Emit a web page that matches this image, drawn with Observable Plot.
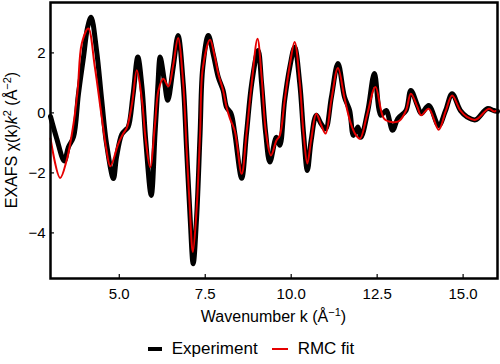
<!DOCTYPE html>
<html><head><meta charset="utf-8">
<script src="https://cdn.jsdelivr.net/npm/d3@7"></script>
<script src="https://cdn.jsdelivr.net/npm/@observablehq/plot@0.6"></script>
<style>
body{margin:0;background:#fff;font-family:"Liberation Sans",Arial,sans-serif}
#legend{display:flex;justify-content:center;align-items:center;height:30px;width:500px;font-size:17px;color:#000;padding-left:2px;box-sizing:border-box}
#legend .sw{display:inline-block;margin-right:10px}
#legend .item{display:flex;align-items:center;margin:0 7px}
</style>
</head><body>
<div id="chart"></div>
<div id="legend"></div>
<script>
// Experiment
const expK = [3.00,3.18,3.40,3.52,3.67,3.81,3.96,4.08,4.18,4.34,4.49,4.63,4.83,4.92,5.07,5.17,5.26,5.40,5.54,5.66,5.77,5.93,6.04,6.12,6.19,6.31,6.41,6.57,6.71,6.86,6.96,7.06,7.15,7.25,7.35,7.43,7.59,7.73,7.88,8.02,8.12,8.25,8.36,8.56,8.70,8.85,9.04,9.14,9.26,9.38,9.57,9.67,9.81,9.96,10.10,10.25,10.36,10.47,10.58,10.73,10.87,11.00,11.17,11.36,11.55,11.70,11.81,11.94,12.03,12.23,12.42,12.61,12.76,12.95,13.10,13.34,13.48,13.67,13.78,14.00,14.29,14.49,14.68,14.92,15.12,15.36,15.70,15.89,16.00];
const expY = [-0.12,-0.85,-1.60,-1.14,-0.80,0.60,1.86,2.86,3.19,2.08,0.42,-1.03,-2.19,-1.47,-0.72,-0.58,-0.47,0.60,1.86,0.86,-0.92,-2.75,-0.69,0.86,1.86,1.08,0.42,1.53,2.58,0.97,-1.25,-3.47,-5.03,-3.47,-0.69,1.53,2.58,1.97,1.19,0.75,0.19,-0.02,-0.69,-2.18,-0.69,0.97,2.08,0.97,-0.69,-1.64,-0.81,-1.08,0.42,1.53,2.19,0.97,-0.69,-1.92,-0.92,-0.08,-0.36,-0.53,0.53,1.65,0.53,0.08,-0.75,-0.47,-0.81,0.08,1.31,-0.08,0.08,-0.58,-0.19,0.08,0.75,0.25,-0.02,0.25,-0.42,0.08,0.64,0.08,-0.14,-0.23,0.14,0.08,0.05];
// RMC fit
const fitK = [3.00,3.28,3.47,3.67,3.79,3.91,4.10,4.29,4.49,4.63,4.74,4.97,5.10,5.22,5.37,5.51,5.66,5.77,5.90,6.04,6.14,6.28,6.43,6.57,6.71,6.86,6.96,7.04,7.14,7.25,7.35,7.43,7.64,7.78,7.88,8.02,8.12,8.22,8.36,8.56,8.70,8.85,9.02,9.14,9.26,9.41,9.57,9.67,9.81,9.96,10.10,10.25,10.36,10.47,10.58,10.73,10.87,11.00,11.17,11.36,11.55,11.72,11.86,12.00,12.20,12.45,12.70,12.95,13.14,13.34,13.48,13.67,13.78,14.00,14.29,14.49,14.68,14.92,15.12,15.36,15.75,15.90,16.00];
const fitY = [-0.85,-2.17,-1.58,-0.36,0.75,2.31,2.81,1.53,-0.14,-1.25,-1.78,-1.03,-0.72,-0.50,0.30,1.42,0.42,-0.92,-1.81,-0.36,0.75,1.14,0.88,1.60,2.50,0.97,-1.25,-2.92,-4.64,-3.20,-0.69,1.50,2.44,1.86,1.30,0.75,0.19,-0.19,-0.60,-2.03,-0.69,0.97,2.47,1.20,-0.60,-1.42,-0.92,-0.75,0.42,1.60,2.36,1.00,-0.70,-1.69,-0.90,-0.03,-0.40,-0.69,0.45,1.50,0.50,-0.30,-0.70,-0.86,-0.10,0.86,-0.19,-0.31,-0.27,0.08,0.64,0.20,-0.08,0.14,-0.56,0.05,0.58,0.08,-0.14,-0.23,0.14,0.05,0.08];

const xTicks = [5, 7.5, 10, 12.5, 15];
const yTicks = [-4, -2, 0, 2];
const seriesNames = ["Experiment", "RMC fit"];
const seriesColors = ["#000000", "#e60000"];

const expData = expK.map((k, i) => ({k, v: expY[i]}));
const fitData = fitK.map((k, i) => ({k, v: fitY[i]}));

const W = 500, H = 334, mL = 50, mR = 3, mT = 2, mB = 56;

const plot = Plot.plot({
  width: W, height: H,
  marginLeft: mL, marginRight: mR, marginTop: mT, marginBottom: mB,
  style: {fontFamily: '"Liberation Sans", Arial, sans-serif', fontSize: "15px", color: "#000", background: "#fff", overflow: "visible"},
  x: {domain: [3, 16]},
  y: {domain: [-5.52, 3.68]},
  marks: [
    Plot.line(expData, {x: "k", y: "v", stroke: seriesColors[0], strokeWidth: 5, curve: "catmull-rom"}),
    Plot.line(fitData, {x: "k", y: "v", stroke: seriesColors[1], strokeWidth: 2, curve: "catmull-rom"}),
    Plot.axisX(xTicks, {anchor: "bottom", tickSize: 4, dy: -4, tickFormat: () => "", label: null, strokeWidth: 1.2}),
    Plot.axisX(xTicks, {anchor: "bottom", tickSize: 0, tickPadding: 10, tickFormat: d => d.toFixed(1), label: null, fontSize: 15}),
    Plot.axisY(yTicks, {anchor: "left", tickSize: 4, dx: 4, tickFormat: () => "", label: null, strokeWidth: 1.2}),
    Plot.axisY(yTicks, {anchor: "left", tickSize: 0, tickPadding: 5, tickFormat: d => d < 0 ? "\u2212" + Math.abs(d) : String(d), label: null, fontSize: 15}),
    Plot.frame({stroke: "black", strokeWidth: 2.5})
  ]
});
document.getElementById("chart").appendChild(plot);

const svg = d3.select(plot);
const cx = mL + (W - mL - mR) / 2;
const cy = mT + (H - mT - mB) / 2;
// x label
const xl = svg.append("text").attr("x", cx).attr("y", 322).attr("text-anchor", "middle")
  .attr("font-size", 16).attr("fill", "#000");
xl.append("tspan").text("Wavenumber k (Å");
xl.append("tspan").attr("dy", -6).attr("font-size", 11).text("\u22121");
xl.append("tspan").attr("dy", 6).text(")");
// y label
const yl = svg.append("text").attr("transform", `translate(17,${cy}) rotate(-90)`).attr("text-anchor", "middle")
  .attr("font-size", 16).attr("fill", "#000");
yl.append("tspan").text("EXAFS χ(k)");
yl.append("tspan").attr("font-style", "italic").text("k");
yl.append("tspan").attr("dy", -6).attr("font-size", 11).text("2");
yl.append("tspan").attr("dy", 6).text(" (Å");
yl.append("tspan").attr("dy", -6).attr("font-size", 11).text("\u22122");
yl.append("tspan").attr("dy", 6).text(")");

// legend
const leg = d3.select("#legend");
seriesNames.forEach((name, i) => {
  const it = leg.append("div").attr("class", "item");
  const s = it.append("svg").attr("class", "sw").attr("width", i === 0 ? 14 : 16).attr("height", 8);
  s.append("line").attr("x1", 0).attr("x2", i === 0 ? 14 : 16).attr("y1", 4).attr("y2", 4)
    .attr("stroke", seriesColors[i]).attr("stroke-width", i === 0 ? 4 : 2);
  it.append("span").text(name);
});
</script>
</body></html>
